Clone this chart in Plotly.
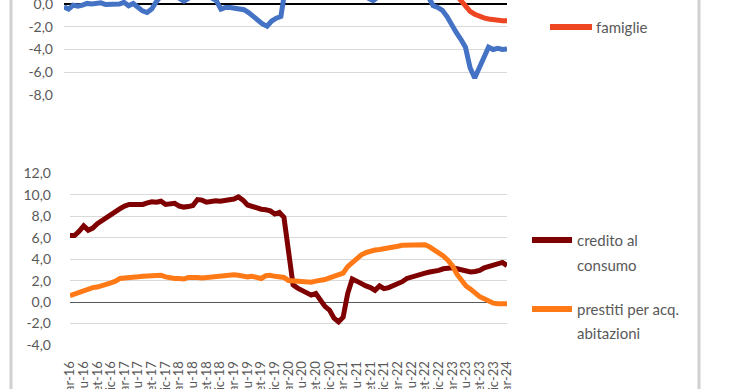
import plotly.graph_objects as go

# ---------------- data ----------------
mesi = ["gen", "feb", "mar", "apr", "mag", "giu", "lug", "ago", "set", "ott", "nov", "dic"]
months = [f"{mesi[(2 + k) % 12]}-{16 + (2 + k) // 12}" for k in range(97)]  # mar-16 .. mar-24

tick_labels = ["mar-16", "giu-16", "set-16", "dic-16", "mar-17", "giu-17", "set-17", "dic-17",
               "mar-18", "giu-18", "set-18", "dic-18", "mar-19", "giu-19", "set-19", "dic-19",
               "mar-20", "giu-20", "set-20", "dic-20", "mar-21", "giu-21", "set-21", "dic-21",
               "mar-22", "giu-22", "set-22", "dic-22", "mar-23", "giu-23", "set-23", "dic-23",
               "mar-24"]

imprese = [-0.25, -0.45, -0.1, -0.2, -0.1, 0.05, 0.0, 0.0, 0.1, -0.05,
           -0.05, 0.05, 0.0, 0.15, -0.15, 0.05, -0.3, -0.6, -0.75, -0.45,
           0.2, 0.8, 1.2, 1.0, 0.7, 0.5, 0.25, 0.5, 1.0, 1.2,
           1.0, 0.8, 0.6, 0.3, -0.45, -0.3, -0.3, -0.4, -0.45, -0.5,
           -0.75, -1.1, -1.45, -1.75, -1.95, -1.5, -1.25, -1.1, 1.5, 3.0,
           4.5, 5.5, 6.5, 7.5, 8.0, 8.3, 8.5, 8.4, 8.0, 6.5,
           5.0, 3.5, 2.5, 1.8, 1.2, 0.8, 0.5, 0.3, 0.6, 1.0,
           1.4, 1.8, 2.2, 2.6, 3.0, 3.2, 2.8, 2.2, 1.5, 0.6,
           -0.15, -0.3, -0.55, -1.1, -1.9, -2.5, -3.1, -3.8, -5.6, -6.5,
           -5.6, -4.6, -3.8, -4.0, -3.9, -4.0, -3.95]

famiglie = [0.8, 0.9, 1.0, 1.2, 1.4, 1.5, 1.6, 1.8, 1.9, 2.0,
            2.1, 2.3, 2.4, 2.5, 2.6, 2.6, 2.7, 2.7, 2.8, 2.8,
            2.9, 2.8, 2.7, 2.7, 2.6, 2.6, 2.5, 2.5, 2.6, 2.6,
            2.5, 2.5, 2.6, 2.5, 2.5, 2.4, 2.4, 2.5, 2.5, 2.4,
            2.4, 2.3, 2.3, 2.3, 2.2, 2.2, 2.3, 2.3, 1.8, 1.3,
            1.2, 1.2, 1.3, 1.5, 1.7, 1.9, 2.0, 2.3, 2.5, 2.8,
            3.2, 3.6, 3.8, 3.8, 3.7, 3.7, 3.8, 3.9, 4.0, 4.1,
            4.1, 4.2, 4.2, 4.2, 4.1, 4.0, 3.9, 3.6, 3.3, 3.0,
            2.7, 2.4, 2.1, 1.7, 1.3, 0.8, 0.3, -0.25, -0.65, -0.9,
            -1.1, -1.22, -1.32, -1.4, -1.45, -1.47, -1.47]

credito_consumo = [6.2, 6.2, 6.6, 7.1, 6.7, 6.9, 7.3, 7.6, 7.9, 8.2,
                   8.4, 8.7, 8.95, 9.1, 9.1, 9.05, 9.1, 9.25, 9.35, 9.3,
                   9.4, 9.1, 9.1, 9.2, 8.95, 8.85, 8.9, 9.0, 9.55, 9.5,
                   9.3, 9.4, 9.45, 9.4, 9.45, 9.5, 9.6, 9.8, 9.5, 9.05,
                   8.9, 8.8, 8.65, 8.6, 8.5, 8.2, 8.35, 7.9, 5.0, 1.6,
                   1.3, 1.1, 0.8, 0.65, 0.8, 0.1, -0.4, -0.75, -1.5, -1.85,
                   -1.4, 0.8, 2.15, 1.95, 1.7, 1.5, 1.35, 1.1, 1.5, 1.25,
                   1.35, 1.55, 1.65, 1.9, 2.2, 2.35, 2.45, 2.6, 2.7, 2.8,
                   2.85, 2.95, 3.1, 3.2, 3.2, 3.1, 3.0, 2.95, 2.8, 2.85,
                   2.95, 3.2, 3.35, 3.5, 3.6, 3.7, 3.4]

prestiti_abitazioni = [0.6, 0.75, 0.9, 1.1, 1.3, 1.35, 1.4, 1.5, 1.65, 1.8,
                       1.95, 2.2, 2.25, 2.25, 2.25, 2.35, 2.4, 2.45, 2.5, 2.55,
                       2.5, 2.35, 2.25, 2.2, 2.2, 2.15, 2.3, 2.35, 2.3, 2.25,
                       2.3, 2.35, 2.4, 2.45, 2.5, 2.55, 2.55, 2.5, 2.4, 2.35,
                       2.4, 2.35, 2.2, 2.45, 2.5, 2.4, 2.4, 2.3, 2.0, 1.95,
                       1.95, 1.9, 1.85, 1.85, 1.95, 2.0, 2.1, 2.25, 2.4, 2.5,
                       2.7, 3.3, 3.7, 4.1, 4.4, 4.6, 4.75, 4.85, 4.9, 4.95,
                       5.05, 5.15, 5.2, 5.3, 5.3, 5.35, 5.35, 5.3, 5.35, 5.15,
                       4.9, 4.6, 4.3, 3.9, 3.4, 2.6, 2.0, 1.5, 1.2, 0.8,
                       0.5, 0.3, 0.05, -0.1, -0.15, -0.15, -0.15]

top_ticks = [-8, -6, -4, -2, 0]
bottom_ticks = [-4, -2, 0, 2, 4, 6, 8, 10, 12]

# ---------------- styles ----------------
W, H = 740, 389
FONT = "Lato, 'Open Sans', sans-serif"
TXT = "#595959"
GRID = "#d9d9d9"
C_BLUE = "#4472C4"
C_RED = "#EE4622"
C_DARK = "#7F0000"
C_ORANGE = "#FF7A17"


def fx(px):
    return px / W


def fy(py):
    return 1 - py / H


def fmt(v):
    return f"{v:.1f}".replace(".", ",")


fig = go.Figure()

fig.add_trace(go.Scatter(x=months, y=imprese, mode="lines", name="imprese",
                         line=dict(color=C_BLUE, width=5), xaxis="x", yaxis="y",
                         showlegend=False))
fig.add_trace(go.Scatter(x=months, y=famiglie, mode="lines", name="famiglie",
                         line=dict(color=C_RED, width=5), xaxis="x", yaxis="y",
                         showlegend=False))
fig.add_trace(go.Scatter(x=months, y=credito_consumo, mode="lines", name="credito al consumo",
                         line=dict(color=C_DARK, width=5), xaxis="x2", yaxis="y2",
                         showlegend=False))
fig.add_trace(go.Scatter(x=months, y=prestiti_abitazioni, mode="lines",
                         name="prestiti per acq. abitazioni",
                         line=dict(color=C_ORANGE, width=5), xaxis="x2", yaxis="y2",
                         showlegend=False))

# top panel: -8 at y=95px, 0 at y=4px
top_scale = 91 / 8.0
top_lo, top_hi = -8.05, 0.35
fig.update_layout(
    xaxis=dict(domain=[fx(64), fx(507)], type="category", categoryorder="array",
               categoryarray=months, range=[0, 96], showticklabels=False,
               showgrid=False, zeroline=False, showline=False, anchor="y",
               automargin=False),
    yaxis=dict(domain=[fy(95 + (-8 - top_lo) * top_scale), fy(4 - top_hi * top_scale)],
               range=[top_lo, top_hi], tickmode="array", tickvals=top_ticks,
               ticktext=[fmt(v) for v in top_ticks], showgrid=True, gridcolor=GRID,
               gridwidth=1, zeroline=True, zerolinecolor="#000000", zerolinewidth=2,
               showline=False, ticks="", ticklabelstandoff=10, ticklabeloverflow="allow",
               tickfont=dict(family=FONT, size=14, color=TXT), anchor="x",
               automargin=False),
)

# bottom panel: 12 at y=173.3px, -4 at y=345px
bot_scale = (345 - 173.3) / 16.0
bot_lo, bot_hi = -4.05, 12.05
fig.update_layout(
    xaxis2=dict(domain=[fx(70), fx(507)], type="category", categoryorder="array",
                categoryarray=months, range=[0, 96], tickmode="array",
                tickvals=tick_labels, ticktext=tick_labels, tickangle=-90,
                showgrid=False, zeroline=False, showline=False, ticks="",
                ticklabelstandoff=12, ticklabeloverflow="allow",
                tickfont=dict(family=FONT, size=13, color=TXT), anchor="y2",
                automargin=False),
    yaxis2=dict(domain=[fy(345 + (-4 - bot_lo) * bot_scale), fy(173.3 - (bot_hi - 12) * bot_scale)],
                range=[bot_lo, bot_hi], tickmode="array", tickvals=bottom_ticks,
                ticktext=[fmt(v) for v in bottom_ticks], showgrid=True, gridcolor=GRID,
                gridwidth=1, zeroline=True, zerolinecolor="#595959", zerolinewidth=1,
                showline=False, ticks="", ticklabelstandoff=18,
                tickfont=dict(family=FONT, size=14, color=TXT), anchor="x2",
                automargin=False),
)

shapes = [
    # side borders of the pasted charts
    dict(type="line", xref="paper", yref="paper", x0=fx(11), x1=fx(11), y0=0, y1=1,
         line=dict(color="#d0d0d0", width=3)),
    dict(type="line", xref="paper", yref="paper", x0=fx(699), x1=fx(699), y0=0, y1=1,
         line=dict(color="#d0d0d0", width=3)),
    # legend samples
    dict(type="line", xref="paper", yref="paper", x0=fx(550), x1=fx(592), y0=fy(27), y1=fy(27),
         line=dict(color=C_RED, width=6)),
    dict(type="line", xref="paper", yref="paper", x0=fx(532), x1=fx(572), y0=fy(240), y1=fy(240),
         line=dict(color=C_DARK, width=6)),
    dict(type="line", xref="paper", yref="paper", x0=fx(532), x1=fx(572), y0=fy(309), y1=fy(309),
         line=dict(color=C_ORANGE, width=6)),
]

legend_text = [("famiglie", 594, 27), ("credito al", 575, 240), ("consumo", 575, 265),
               ("prestiti per acq.", 575, 309), ("abitazioni", 575, 333)]
annotations = [dict(text=t, xref="paper", yref="paper", x=fx(px), y=fy(py), xanchor="left",
                    yanchor="middle", showarrow=False,
                    font=dict(family=FONT, size=15, color=TXT))
               for t, px, py in legend_text]

fig.update_layout(width=W, height=H, autosize=False,
                  margin=dict(l=0, r=0, t=0, b=0, pad=0),
                  paper_bgcolor="white", plot_bgcolor="white",
                  shapes=shapes, annotations=annotations, showlegend=False)

fig.write_html("out.html", config={"displayModeBar": False},
               post_script="document.body.style.margin='0px';"
                           "document.body.style.overflow='hidden';")
